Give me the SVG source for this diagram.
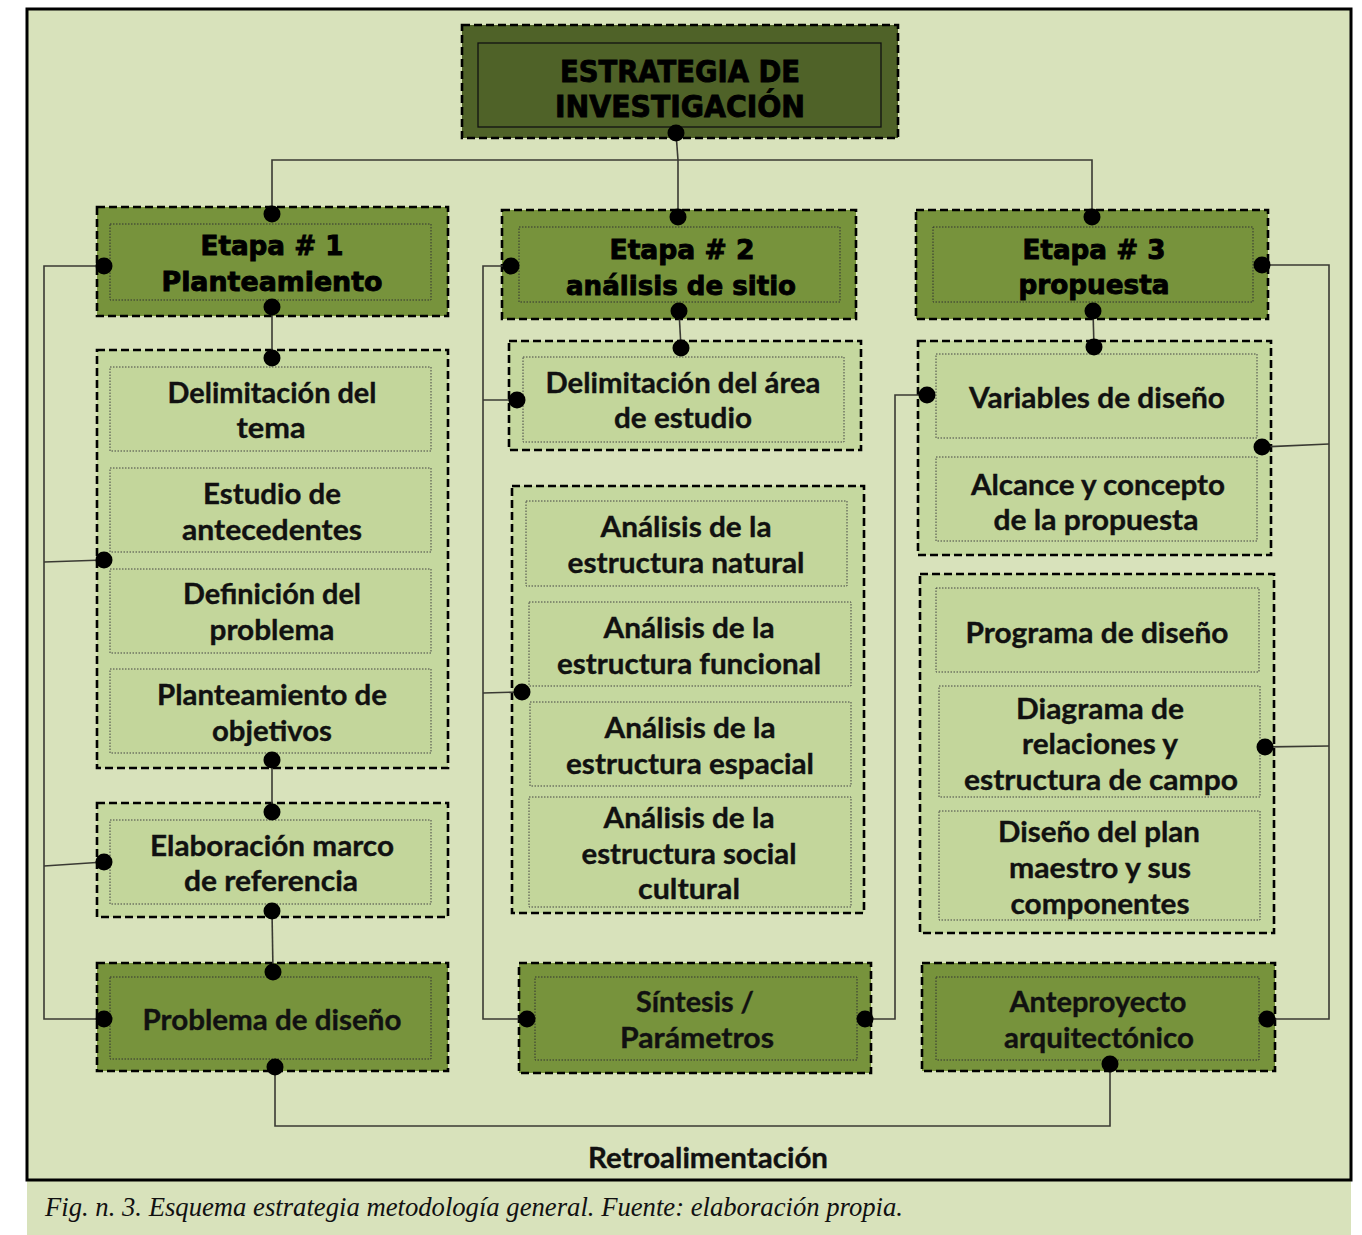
<svg xmlns="http://www.w3.org/2000/svg" width="1362" height="1235" viewBox="0 0 1362 1235">
<style>
.bg{fill:#d8e2bb}
.frame{fill:none;stroke:#000;stroke-width:3}
.outer{stroke:#000;stroke-width:2.6;stroke-dasharray:8 4}
.dark{fill:#4f6228}
.mid{fill:#77933c}
.light{fill:#c5d89f}
.inner{fill:none;stroke:#333;stroke-width:1;stroke-dasharray:1.5 1.5}
.innerL{fill:#c3d69b;stroke:#444;stroke-width:1;stroke-dasharray:1.5 1.5}
.innerS{fill:none;stroke:#111;stroke-width:1.3}
.h{font-family:"DejaVu Sans",Verdana,sans-serif;font-weight:bold;fill:#000;stroke:#000;stroke-width:0.9;text-anchor:middle}
.t{font-family:Lato,"Open Sans",sans-serif;font-weight:bold;font-size:28px;fill:#111;stroke:#111;stroke-width:0.35;text-anchor:middle}
.cap{font-family:"Liberation Serif","Times New Roman",serif;font-style:italic;font-size:28px;fill:#111}
.ln{fill:none;stroke:#3a3a33;stroke-width:1.6}
.dot{fill:#000}
</style>
<rect x="27" y="9" width="1324" height="1226" class="bg"/>
<rect x="27" y="9" width="1324" height="1171" class="frame"/>

<g id="title">
<rect x="462" y="25" width="436" height="113" class="dark outer"/>
<rect x="478" y="43" width="403" height="84" class="innerS"/>
<text x="680" y="82" class="h" font-size="30" textLength="240" lengthAdjust="spacingAndGlyphs">ESTRATEGIA DE</text>
<text x="680" y="117" class="h" font-size="30" textLength="250" lengthAdjust="spacingAndGlyphs">INVESTIGACIÓN</text>
</g>

<g id="etapa1">
<rect x="97" y="207" width="351" height="109" class="mid outer"/>
<rect x="110" y="224" width="321" height="76" class="inner"/>
<text x="272" y="255" class="h" font-size="26" textLength="143" lengthAdjust="spacingAndGlyphs">Etapa # 1</text>
<text x="272" y="291" class="h" font-size="26" textLength="221" lengthAdjust="spacingAndGlyphs">Planteamiento</text>
</g>
<g id="etapa2">
<rect x="502" y="210" width="354" height="109" class="mid outer"/>
<rect x="519" y="227" width="321" height="75" class="inner"/>
<text x="682" y="259" class="h" font-size="26" textLength="145" lengthAdjust="spacingAndGlyphs">Etapa # 2</text>
<text x="681" y="295" class="h" font-size="26" textLength="230" lengthAdjust="spacingAndGlyphs">análisis de sitio</text>
</g>
<g id="etapa3">
<rect x="916" y="210" width="352" height="109" class="mid outer"/>
<rect x="933" y="227" width="320" height="75" class="inner"/>
<text x="1094" y="259" class="h" font-size="26" textLength="143" lengthAdjust="spacingAndGlyphs">Etapa # 3</text>
<text x="1094" y="294" class="h" font-size="26" textLength="151" lengthAdjust="spacingAndGlyphs">propuesta</text>
</g>

<g id="planteamiento-items">
<rect x="97" y="350" width="351" height="418" class="light outer"/>
<rect x="110" y="367" width="321" height="84" class="innerL"/>
<text x="272" y="403" class="t" textLength="209" lengthAdjust="spacingAndGlyphs">Delimitación del</text>
<text x="271" y="438" class="t" textLength="69" lengthAdjust="spacingAndGlyphs">tema</text>
<rect x="110" y="468" width="321" height="84" class="innerL"/>
<text x="272" y="504" class="t" textLength="138" lengthAdjust="spacingAndGlyphs">Estudio de</text>
<text x="272" y="540" class="t" textLength="180" lengthAdjust="spacingAndGlyphs">antecedentes</text>
<rect x="110" y="569" width="321" height="84" class="innerL"/>
<text x="272" y="604" class="t" textLength="178" lengthAdjust="spacingAndGlyphs">Definición del</text>
<text x="272" y="640" class="t" textLength="125" lengthAdjust="spacingAndGlyphs">problema</text>
<rect x="110" y="669" width="321" height="84" class="innerL"/>
<text x="272" y="705" class="t" textLength="230" lengthAdjust="spacingAndGlyphs">Planteamiento de</text>
<text x="272" y="741" class="t" textLength="120" lengthAdjust="spacingAndGlyphs">objetivos</text>
</g>

<g id="marco-referencia">
<rect x="97" y="803" width="351" height="114" class="light outer"/>
<rect x="110" y="820" width="321" height="84" class="innerL"/>
<text x="272" y="856" class="t" textLength="244" lengthAdjust="spacingAndGlyphs">Elaboración marco</text>
<text x="271" y="891" class="t" textLength="174" lengthAdjust="spacingAndGlyphs">de referencia</text>
</g>

<g id="problema-diseno">
<rect x="97" y="963" width="351" height="108" class="mid outer"/>
<rect x="110" y="977" width="321" height="82" class="inner"/>
<text x="272" y="1030" class="t" textLength="259" lengthAdjust="spacingAndGlyphs">Problema de diseño</text>
</g>

<g id="delimitacion-area">
<rect x="509" y="341" width="352" height="109" class="light outer"/>
<rect x="523" y="357" width="321" height="85" class="innerL"/>
<text x="683" y="393" class="t" textLength="275" lengthAdjust="spacingAndGlyphs">Delimitación del área</text>
<text x="683" y="428" class="t" textLength="138" lengthAdjust="spacingAndGlyphs">de estudio</text>
</g>

<g id="analisis">
<rect x="512" y="486" width="352" height="427" class="light outer"/>
<rect x="526" y="501" width="321" height="85" class="innerL"/>
<text x="686" y="537" class="t" textLength="171" lengthAdjust="spacingAndGlyphs">Análisis de la</text>
<text x="686" y="573" class="t" textLength="237" lengthAdjust="spacingAndGlyphs">estructura natural</text>
<rect x="529" y="602" width="322" height="84" class="innerL"/>
<text x="689" y="638" class="t" textLength="171" lengthAdjust="spacingAndGlyphs">Análisis de la</text>
<text x="689" y="674" class="t" textLength="264" lengthAdjust="spacingAndGlyphs">estructura funcional</text>
<rect x="530" y="702" width="321" height="84" class="innerL"/>
<text x="690" y="738" class="t" textLength="171" lengthAdjust="spacingAndGlyphs">Análisis de la</text>
<text x="690" y="774" class="t" textLength="248" lengthAdjust="spacingAndGlyphs">estructura espacial</text>
<rect x="529" y="797" width="322" height="110" class="innerL"/>
<text x="689" y="828" class="t" textLength="171" lengthAdjust="spacingAndGlyphs">Análisis de la</text>
<text x="689" y="864" class="t" textLength="215" lengthAdjust="spacingAndGlyphs">estructura social</text>
<text x="689" y="899" class="t" textLength="102" lengthAdjust="spacingAndGlyphs">cultural</text>
</g>

<g id="sintesis">
<rect x="519" y="963" width="352" height="110" class="mid outer"/>
<rect x="535" y="977" width="322" height="83" class="inner"/>
<text x="695" y="1012" class="t" textLength="118" lengthAdjust="spacingAndGlyphs">Síntesis /</text>
<text x="697" y="1048" class="t" textLength="154" lengthAdjust="spacingAndGlyphs">Parámetros</text>
</g>

<g id="variables">
<rect x="918" y="341" width="353" height="214" class="light outer"/>
<rect x="936" y="354" width="321" height="84" class="innerL"/>
<text x="1097" y="408" class="t" textLength="256" lengthAdjust="spacingAndGlyphs">Variables de diseño</text>
<rect x="936" y="457" width="321" height="84" class="innerL"/>
<text x="1098" y="495" class="t" textLength="254" lengthAdjust="spacingAndGlyphs">Alcance y concepto</text>
<text x="1096" y="530" class="t" textLength="205" lengthAdjust="spacingAndGlyphs">de la propuesta</text>
</g>

<g id="programa">
<rect x="920" y="574" width="354" height="359" class="light outer"/>
<rect x="936" y="588" width="323" height="84" class="innerL"/>
<text x="1097" y="643" class="t" textLength="263" lengthAdjust="spacingAndGlyphs">Programa de diseño</text>
<rect x="939" y="686" width="321" height="111" class="innerL"/>
<text x="1100" y="719" class="t" textLength="168" lengthAdjust="spacingAndGlyphs">Diagrama de</text>
<text x="1100" y="754" class="t" textLength="156" lengthAdjust="spacingAndGlyphs">relaciones y</text>
<text x="1101" y="790" class="t" textLength="274" lengthAdjust="spacingAndGlyphs">estructura de campo</text>
<rect x="939" y="811" width="321" height="109" class="innerL"/>
<text x="1099" y="842" class="t" textLength="202" lengthAdjust="spacingAndGlyphs">Diseño del plan</text>
<text x="1100" y="878" class="t" textLength="182" lengthAdjust="spacingAndGlyphs">maestro y sus</text>
<text x="1100" y="914" class="t" textLength="179" lengthAdjust="spacingAndGlyphs">componentes</text>
</g>

<g id="anteproyecto">
<rect x="922" y="963" width="353" height="108" class="mid outer"/>
<rect x="936" y="977" width="323" height="83" class="inner"/>
<text x="1098" y="1012" class="t" textLength="177" lengthAdjust="spacingAndGlyphs">Anteproyecto</text>
<text x="1099" y="1048" class="t" textLength="190" lengthAdjust="spacingAndGlyphs">arquitectónico</text>
</g>

<g id="connectors">
<polyline class="ln" points="676,133 678,160"/>
<polyline class="ln" points="272,214 272,160 1092,160 1092,217"/>
<polyline class="ln" points="678,160 678,217"/>
<polyline class="ln" points="272,307 272,358"/>
<polyline class="ln" points="272,760 272,812"/>
<polyline class="ln" points="272,911 273,972"/>
<polyline class="ln" points="679,311 681,348"/>
<polyline class="ln" points="1093,311 1094,347"/>
<polyline class="ln" points="104,266 44,266 44,1019 104,1019"/>
<polyline class="ln" points="44,562 104,560"/>
<polyline class="ln" points="44,866 104,862"/>
<polyline class="ln" points="511,266 483,266 483,1019 527,1019"/>
<polyline class="ln" points="483,400 517,400"/>
<polyline class="ln" points="483,693 522,692"/>
<polyline class="ln" points="865,1019 895,1019 895,395 927,395"/>
<polyline class="ln" points="1262,265 1329,265 1329,1019 1267,1019"/>
<polyline class="ln" points="1262,447 1329,444"/>
<polyline class="ln" points="1265,747 1329,746"/>
<polyline class="ln" points="275,1067 275,1126 1110,1126 1110,1064"/>
<circle class="dot" cx="676" cy="133" r="8.5"/>
<circle class="dot" cx="272" cy="214" r="8.5"/>
<circle class="dot" cx="678" cy="217" r="8.5"/>
<circle class="dot" cx="1092" cy="217" r="8.5"/>
<circle class="dot" cx="272" cy="307" r="8.5"/>
<circle class="dot" cx="104" cy="266" r="8.5"/>
<circle class="dot" cx="679" cy="311" r="8.5"/>
<circle class="dot" cx="511" cy="266" r="8.5"/>
<circle class="dot" cx="1093" cy="311" r="8.5"/>
<circle class="dot" cx="1262" cy="265" r="8.5"/>
<circle class="dot" cx="272" cy="358" r="8.5"/>
<circle class="dot" cx="104" cy="560" r="8.5"/>
<circle class="dot" cx="272" cy="760" r="8.5"/>
<circle class="dot" cx="272" cy="812" r="8.5"/>
<circle class="dot" cx="104" cy="862" r="8.5"/>
<circle class="dot" cx="272" cy="911" r="8.5"/>
<circle class="dot" cx="273" cy="972" r="8.5"/>
<circle class="dot" cx="104" cy="1019" r="8.5"/>
<circle class="dot" cx="275" cy="1067" r="8.5"/>
<circle class="dot" cx="681" cy="348" r="8.5"/>
<circle class="dot" cx="517" cy="400" r="8.5"/>
<circle class="dot" cx="522" cy="692" r="8.5"/>
<circle class="dot" cx="527" cy="1019" r="8.5"/>
<circle class="dot" cx="865" cy="1019" r="8.5"/>
<circle class="dot" cx="1094" cy="347" r="8.5"/>
<circle class="dot" cx="927" cy="395" r="8.5"/>
<circle class="dot" cx="1262" cy="447" r="8.5"/>
<circle class="dot" cx="1265" cy="747" r="8.5"/>
<circle class="dot" cx="1267" cy="1019" r="8.5"/>
<circle class="dot" cx="1110" cy="1064" r="8.5"/>
</g>

<text x="708" y="1168" class="t" textLength="240" lengthAdjust="spacingAndGlyphs">Retroalimentación</text>
<text x="45" y="1216" class="cap" textLength="858" lengthAdjust="spacingAndGlyphs">Fig. n. 3. Esquema estrategia metodología general. Fuente: elaboración propia.</text>
</svg>
